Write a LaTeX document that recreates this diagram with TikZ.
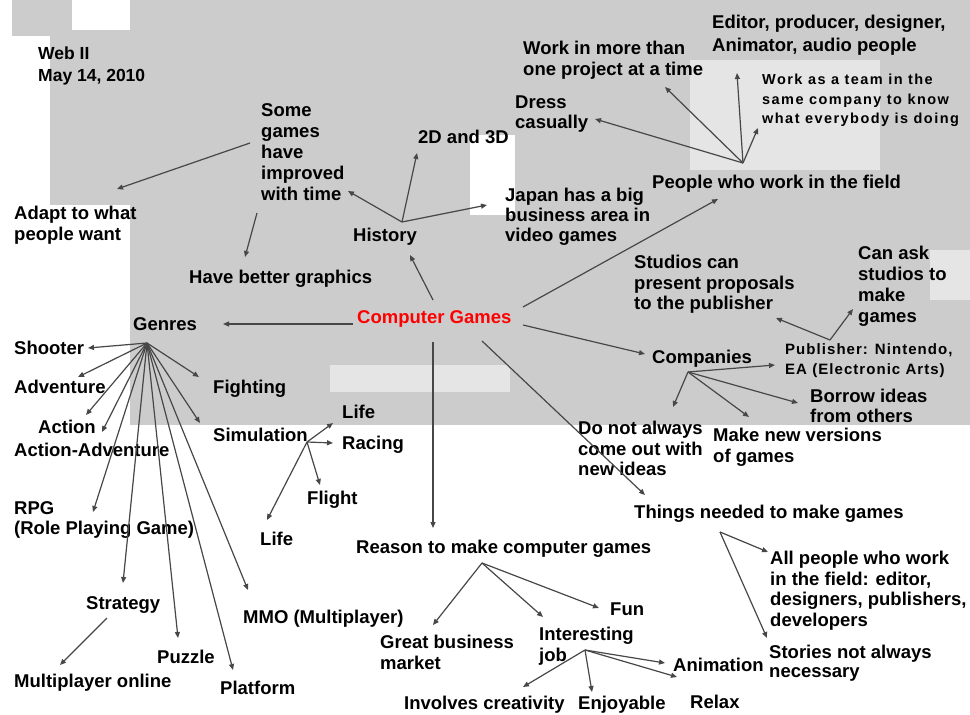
\documentclass[tikz,border=0pt]{standalone}
\usepackage{fontspec}
\setmainfont{Liberation Sans}
\newfontfamily\spfont{Liberation Sans}[LetterSpace=10]
\newfontfamily\pubfont{Liberation Sans}[LetterSpace=7]
\usetikzlibrary{arrows.meta}
\definecolor{bgg}{gray}{0.8}
\definecolor{bgl}{gray}{0.9}
\definecolor{cgred}{RGB}{255,0,0}
\tikzset{
  t/.style={anchor=north west, inner sep=0pt, align=left,
    font=\fontsize{18.5}{20.5}\selectfont\bfseries},
  ts/.style={anchor=north west, inner sep=0pt, align=left,
    font=\fontsize{14.5}{19.5}\selectfont\bfseries\spfont},
  arr/.style={draw=black!72, line width=1.2pt, -{Triangle[length=6pt,width=5pt]}}
}
\begin{document}
\begin{tikzpicture}[x=1pt,y=-1pt]
\useasboundingbox (0,0) rectangle (970,715);
% background mosaic (approximate)
\fill[bgg] (130,0) rectangle (970,425);
\fill[bgg] (50,30) rectangle (130,205);
\fill[bgg] (12,0) rectangle (72,36);
\fill[white] (470,135) rectangle (515,215);
\fill[bgl] (690,60) rectangle (880,170);
\fill[bgl] (330,365) rectangle (510,392);
\fill[bgl] (930,250) rectangle (970,300);
% nodes
\node[t, font=\fontsize{17.5}{22}\selectfont\bfseries] (web) at (38,47) {Web II\\May 14, 2010};
\node[t, font=\fontsize{18.5}{21}\selectfont\bfseries] (someg) at (261,103) {Some\\games\\have\\improved\\with time};
\node[t] (adapt) at (14,206) {Adapt to what\\people want};
\node[t] (twod) at (418,130) {2D and 3D};
\node[t] (history) at (353,228) {History};
\node[t, font=\fontsize{18.5}{20}\selectfont\bfseries] (japan) at (505,188) {Japan has a big\\business area in\\video games};
\node[t] (workmore) at (523,41) {Work in more than\\one project at a time};
\node[t, font=\fontsize{18.5}{20}\selectfont\bfseries] (dress) at (515,96) {Dress\\casually};
\node[t, font=\fontsize{18.5}{23}\selectfont\bfseries] (editor) at (712,15) {Editor, producer, designer,\\Animator, audio people};
\node[ts] (team) at (762,74) {Work as a team in the\\same company to know\\what everybody is doing};
\node[t] (people) at (652,175) {People who work in the field};
\node[t] (graphics) at (189,270) {Have better graphics};
\node[t] (genres) at (133,317) {Genres};
\node[t, text=cgred] (cg) at (357,310) {Computer Games};
\node[t] (shooter) at (14,341) {Shooter};
\node[t] (adventure) at (14,380) {Adventure};
\node[t] (action) at (38,420) {Action};
\node[t] (actadv) at (14,443) {Action-Adventure};
\node[t] (fighting) at (213,380) {Fighting};
\node[t] (simulation) at (213,428) {Simulation};
\node[t] (lifea) at (342,405) {Life};
\node[t] (racing) at (342,436) {Racing};
\node[t] (flight) at (307,491) {Flight};
\node[t] (lifeb) at (260,532) {Life};
\node[t] (rpg) at (14,501) {RPG\\(Role Playing Game)};
\node[t] (strategy) at (86,596) {Strategy};
\node[t] (multi) at (14,674) {Multiplayer online};
\node[t] (puzzle) at (157,650) {Puzzle};
\node[t] (platform) at (220,681) {Platform};
\node[t] (mmo) at (243,610) {MMO (Multiplayer)};
\node[t] (reason) at (356,540) {Reason to make computer games};
\node[t] (great) at (380,635) {Great business\\market};
\node[t] (interesting) at (539,627) {Interesting\\job};
\node[t] (fun) at (610,603) {Fun};
\node[t] (animation) at (673,658) {Animation};
\node[t] (creativity) at (404,696) {Involves creativity};
\node[t] (enjoyable) at (578,696) {Enjoyable};
\node[t] (relax) at (690,695) {Relax};
\node[t] (things) at (634,505) {Things needed to make games};
\node[t] (allpeople) at (770,551) {All people who work\\in the field: editor,\\designers, publishers,\\developers};
\node[t, font=\fontsize{18.5}{19}\selectfont\bfseries] (stories) at (769,645) {Stories not always\\necessary};
\node[t] (studios) at (634,255) {Studios can\\present proposals\\to the publisher};
\node[t, font=\fontsize{18.5}{21}\selectfont\bfseries] (canask) at (858,246) {Can ask\\studios to\\make\\games};
\node[ts, font=\fontsize{15}{20}\selectfont\bfseries\pubfont] (publisher) at (785,343) {Publisher: Nintendo,\\EA (Electronic Arts)};
\node[t] (companies) at (652,350) {Companies};
\node[t, font=\fontsize{18.5}{19.5}\selectfont\bfseries] (borrow) at (810,389) {Borrow ideas\\from others};
\node[t, font=\fontsize{18.5}{21}\selectfont\bfseries] (makenew) at (713,428) {Make new versions\\of games};
\node[t] (donot) at (578,421) {Do not always\\come out with\\new ideas};
% hubs
\coordinate (hhist) at ([shift={(49,-6)}]history.north west);
\coordinate (hpeople) at ([shift={(91,-12)}]people.north west);
\coordinate (hgenres) at ([shift={(14,26)}]genres.north west);
\coordinate (hsim) at ([shift={(94,14)}]simulation.north west);
\coordinate (hreason) at ([shift={(126,23)}]reason.north west);
\coordinate (hint) at ([shift={(46,23)}]interesting.north west);
\coordinate (hthings) at ([shift={(86,27)}]things.north west);
\coordinate (hcomp) at ([shift={(36,22)}]companies.north west);
\coordinate (hpub) at ([shift={(45,-3)}]publisher.north west);
% arrows from Computer Games
\draw[arr] ([shift={(76,-10)}]cg.north west) -- ([shift={(57,27)}]history.north west);
\draw[arr] ([shift={(-4,14)}]cg.north west) -- ([shift={(90,7)}]genres.north west);
\draw[arr] ([shift={(166,-3)}]cg.north west) -- ([shift={(66,24)}]people.north west);
\draw[arr] ([shift={(166,15)}]cg.north west) -- ([shift={(-7,4)}]companies.north west);
\draw[arr] ([shift={(125,31)}]cg.north west) -- ([shift={(11,-10)}]things.north west);
\draw[arr] ([shift={(76,32)}]cg.north west) -- ([shift={(77,-12)}]reason.north west);
% history
\draw[arr] (hhist) -- ([shift={(87,88)}]someg.north west);
\draw[arr] (hhist) -- ([shift={(-1,23)}]twod.north west);
\draw[arr] (hhist) -- ([shift={(-18,17)}]japan.north west);
\draw[arr] ([shift={(-11,40)}]someg.north west) -- ([shift={(103,-17)}]adapt.north west);
\draw[arr] ([shift={(-4,110)}]someg.north west) -- ([shift={(56,-13)}]graphics.north west);
% people
\draw[arr] (hpeople) -- ([shift={(142,46)}]workmore.north west);
\draw[arr] (hpeople) -- ([shift={(25,58)}]editor.north west);
\draw[arr] (hpeople) -- ([shift={(-4,54)}]team.north west);
\draw[arr] (hpeople) -- ([shift={(80,23)}]dress.north west);
% genres
\draw[arr] (hgenres) -- ([shift={(74,7)}]shooter.north west);
\draw[arr] (hgenres) -- ([shift={(64,-3)}]adventure.north west);
\draw[arr] (hgenres) -- ([shift={(48,-5)}]action.north west);
\draw[arr] (hgenres) -- ([shift={(88,-11)}]actadv.north west);
\draw[arr] (hgenres) -- ([shift={(-14,-3)}]fighting.north west);
\draw[arr] (hgenres) -- ([shift={(-13,-5)}]simulation.north west);
\draw[arr] (hgenres) -- ([shift={(79,11)}]rpg.north west);
\draw[arr] (hgenres) -- ([shift={(37,-13)}]strategy.north west);
\draw[arr] (hgenres) -- ([shift={(21,-12)}]puzzle.north west);
\draw[arr] (hgenres) -- ([shift={(13,-11)}]platform.north west);
\draw[arr] (hgenres) -- ([shift={(5,-20)}]mmo.north west);
\draw[arr] ([shift={(21,22)}]strategy.north west) -- ([shift={(46,-9)}]multi.north west);
% simulation
\draw[arr] (hsim) -- ([shift={(-9,18)}]lifea.north west);
\draw[arr] (hsim) -- ([shift={(-9,7)}]racing.north west);
\draw[arr] (hsim) -- ([shift={(13,-6)}]flight.north west);
\draw[arr] (hsim) -- ([shift={(7,-12)}]lifeb.north west);
% reason
\draw[arr] (hreason) -- ([shift={(53,-10)}]great.north west);
\draw[arr] (hreason) -- ([shift={(4,-10)}]interesting.north west);
\draw[arr] (hreason) -- ([shift={(-11,5)}]fun.north west);
\draw[arr] (hint) -- ([shift={(119,-9)}]creativity.north west);
\draw[arr] (hint) -- ([shift={(14,-4)}]enjoyable.north west);
\draw[arr] (hint) -- ([shift={(-8,5)}]animation.north west);
\draw[arr] (hint) -- ([shift={(-13,-18)}]relax.north west);
% things
\draw[arr] (hthings) -- ([shift={(-2,1)}]allpeople.north west);
\draw[arr] (hthings) -- ([shift={(-2,-7)}]stories.north west);
% companies
\draw[arr] (hcomp) -- ([shift={(-10,22)}]publisher.north west);
\draw[arr] (hcomp) -- ([shift={(-12,14)}]borrow.north west);
\draw[arr] (hcomp) -- ([shift={(36,-11)}]makenew.north west);
\draw[arr] (hcomp) -- ([shift={(95,-14)}]donot.north west);
\draw[arr] (hpub) -- ([shift={(142,63)}]studios.north west);
\draw[arr] (hpub) -- ([shift={(-5,63)}]canask.north west);
\end{tikzpicture}
\end{document}
